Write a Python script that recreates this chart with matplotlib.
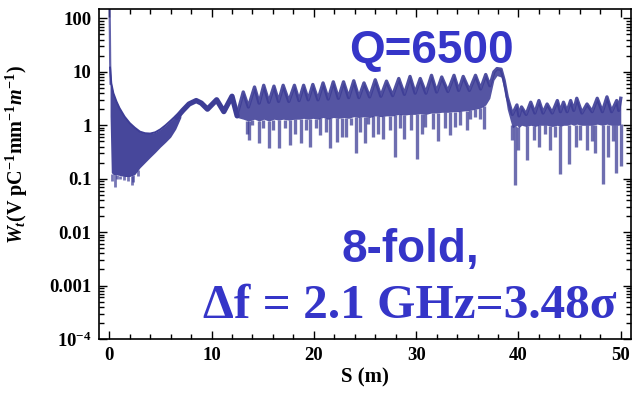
import numpy as np
import matplotlib
matplotlib.use("Agg")
import matplotlib.pyplot as plt
from matplotlib.ticker import FixedLocator, NullFormatter, LogLocator, MultipleLocator

# ---------------- data ----------------
# initial spike at s ~ 0
s_spike0 = [0.03, 0.06, 0.09, 0.13]
w_spike0 = [200.0, 60.0, 15.0, 6.0]

# dense fast-oscillating region (envelopes)
sA = [0.08, 0.2, 0.4, 0.7, 1.0, 1.5, 2.0, 2.5, 3.0, 3.5, 4.0, 4.5, 5.0, 5.5, 6.0, 6.5, 7.0]
hiA = [12, 6.1, 4.0, 2.8, 2.1, 1.45, 1.1, 0.9, 0.76, 0.71, 0.7, 0.74, 0.84, 1.0, 1.22, 1.5, 1.8]
loA = [1.5, 0.13, 0.12, 0.12, 0.115, 0.11, 0.11, 0.12, 0.16, 0.2, 0.25, 0.31, 0.39, 0.48, 0.6, 0.85, 1.4]
spA_s = [0.3, 0.55, 0.75, 1.1, 1.4, 1.8, 2.2, 2.35, 2.85]
spA_w = [0.09, 0.07, 0.1, 0.1, 0.095, 0.09, 0.075, 0.085, 0.11]

# smooth wavy part
sB = [6.6, 7.2, 7.8, 8.5, 9.0, 9.6, 10.5, 11.2, 12.0, 12.5]
wB = [1.4, 1.9, 2.5, 2.9, 2.6, 2.0, 3.0, 1.8, 3.5, 1.5]

# oscillating band (upper scallop / lower floor)
s_band = [12.5, 13.1, 13.6, 14.2, 14.65, 15.1, 15.6, 16.1, 16.55, 17.0, 17.55, 18.1, 18.55, 19.0,
          19.45, 19.9, 20.4, 20.9, 21.4, 21.9, 22.4, 22.9, 23.4, 23.9, 24.4, 24.9, 25.45, 26.0,
          26.55, 27.1, 27.7, 28.3, 28.85, 29.4, 29.9, 30.4, 30.95, 31.5, 32.0, 32.5, 33.1, 33.7,
          34.15, 34.6, 35.2, 35.8, 36.3, 36.8, 37.2, 37.6, 37.9, 38.3, 38.6, 38.9, 39.4, 39.85,
          40.05, 40.3, 40.75, 41.2, 41.6, 42.0, 42.4, 42.8, 43.3, 43.8, 44.1, 44.4, 44.75, 45.1,
          45.4, 45.7, 46.2, 46.7, 47.2, 47.7, 48.2, 48.65, 49.1, 49.6, 49.8, 50.0]
band_hi = [1.6, 4.2, 2.2, 5.2, 2.6, 5.6, 2.7, 5.4, 2.8, 5.6, 2.8, 5.6, 2.9, 5.6,
           3.0, 5.8, 3.0, 6.2, 3.1, 6.5, 3.2, 6.5, 3.3, 6.8, 3.3, 6.2, 3.4, 7.1,
           3.5, 6.7, 3.6, 7.5, 3.8, 8.2, 4.0, 7.5, 4.0, 8.6, 4.2, 8.0, 4.3, 8.6,
           4.5, 8.2, 4.5, 8.6, 4.8, 8.9, 5.5, 10.0, 11.5, 11.2, 6.9, 3.4, 1.6, 2.4,
           1.5, 2.2, 1.6, 2.7, 1.7, 2.9, 1.7, 2.5, 1.7, 2.9, 1.8, 2.7, 1.8, 2.9,
           1.9, 3.2, 1.7, 2.5, 1.8, 3.2, 1.8, 3.4, 1.8, 2.9, 1.9, 3.2]
band_lo = [1.4, 1.3, 1.2, 1.3, 1.2, 1.3, 1.2, 1.3, 1.25, 1.3, 1.25, 1.3, 1.3, 1.35,
           1.3, 1.35, 1.3, 1.4, 1.3, 1.4, 1.35, 1.4, 1.35, 1.45, 1.4, 1.45, 1.4, 1.5,
           1.45, 1.5, 1.5, 1.6, 1.55, 1.6, 1.6, 1.65, 1.6, 1.7, 1.7, 1.75, 1.75, 1.8,
           1.8, 1.85, 1.9, 2.0, 2.1, 2.4, 3.2, 7.0, 8.5, 8.0, 4.6, 2.0, 0.9, 1.0,
           0.9, 1.0, 0.95, 1.0, 0.95, 1.0, 1.0, 1.0, 0.95, 1.0, 0.95, 1.0, 1.0, 1.05,
           1.0, 1.05, 1.0, 1.0, 1.0, 1.05, 1.0, 1.05, 1.0, 1.0, 1.0, 1.05]

# downward spikes (minima) of the wake
sp_s = [13.5, 13.65, 14.0, 14.6, 15.0, 15.6, 16.0, 16.6, 17.2, 17.7,
        18.2, 18.7, 19.2, 19.6, 20.2, 20.6, 21.2, 21.6, 22.3, 22.8,
        23.1, 23.6, 24.1, 24.5, 25.0, 25.3, 25.8, 26.3, 26.8, 27.4,
        27.9, 28.4, 28.8, 29.5, 30.1, 30.6, 30.9, 31.6, 32.1, 32.8,
        33.3, 33.8, 34.3, 35.0, 35.3, 35.8, 36.2, 36.6,
        39.35, 39.7, 40.0, 40.8, 41.5, 42.0, 42.6, 43.1, 43.6, 44.1,
        44.9, 45.6, 46.0, 46.7, 47.2, 47.5, 48.3, 48.8, 49.2, 49.5, 50.0]
sp_w = [0.7, 0.52, 1.0, 0.46, 0.9, 0.37, 0.8, 0.38, 0.9, 0.42,
        0.7, 0.46, 0.8, 0.39, 0.9, 0.65, 0.75, 0.37, 0.49, 0.6,
        0.6, 1.0, 0.3, 0.75, 0.46, 1.07, 0.6, 0.7, 0.56, 0.8,
        0.26, 0.9, 0.56, 0.8, 0.23, 0.7, 0.93, 0.85, 0.5, 0.9,
        0.65, 0.93, 1.0, 0.8, 1.3, 1.4, 1.3, 0.87,
        0.53, 0.076, 0.34, 0.22, 0.53, 0.4, 0.7, 0.34, 0.6, 0.12,
        0.19, 0.4, 0.53, 0.34, 0.5, 0.3, 0.08, 0.26, 0.5, 0.13, 0.17]

y_ticks = [1e-4, 1e-3, 1e-2, 1e-1, 1, 10, 100]
y_ticklabels = [r"$10^{-4}$", "0.001", "0.01", "0.1", "1", "10", "100"]
x_ticks = [0, 10, 20, 30, 40, 50]

# ---------------- styling ----------------
plt.rcParams["font.family"] = ["Liberation Serif", "DejaVu Serif"]
plt.rcParams["font.weight"] = "bold"
plt.rcParams["mathtext.fontset"] = "custom"
plt.rcParams["mathtext.rm"] = "Liberation Serif:bold"
plt.rcParams["mathtext.it"] = "Liberation Serif:italic:bold"
plt.rcParams["mathtext.bf"] = "Liberation Serif:bold"

LINE = "#3d3d96"
TXT = "#3535c8"

fig = plt.figure(figsize=(6.35, 3.98), dpi=100)
ax = fig.add_axes([98.5 / 635, 59 / 398, (631 - 98.5) / 635, (339 - 9) / 398])
ax.set_yscale("log")
ax.set_xlim(-1.05, 51.0)
ax.set_ylim(1e-4, 150)

# initial spike
ax.plot(s_spike0, w_spike0, color=LINE, lw=1.6, alpha=0.8)
# dense region
ax.fill_between(sA, loA, hiA, color=LINE, alpha=0.95, lw=0)
ax.plot(sA, hiA, color=LINE, lw=1.4)
ax.vlines(spA_s, spA_w, np.interp(spA_s, sA, loA), color=LINE, lw=2.0, alpha=0.7)
# smooth wavy
ax.plot(sB, wB, color=LINE, lw=3.8, solid_capstyle="round", solid_joinstyle="round")
# band
ax.fill_between(s_band, band_lo, band_hi, color=LINE, alpha=0.88, lw=0)
ax.plot(s_band, band_hi, color=LINE, lw=2.4, alpha=0.9, solid_joinstyle="round")
ax.vlines(sp_s, sp_w, np.interp(sp_s, s_band, band_lo), color=LINE, lw=2.4, alpha=0.75)

# axes / ticks
for sp in ax.spines.values():
    sp.set_linewidth(1.2)
ax.xaxis.set_major_locator(FixedLocator(x_ticks))
ax.xaxis.set_minor_locator(MultipleLocator(2))
ax.yaxis.set_major_locator(FixedLocator(y_ticks))
ax.set_yticklabels(y_ticklabels)
ax.yaxis.set_minor_locator(LogLocator(base=10, subs=np.arange(2, 10)))
ax.yaxis.set_minor_formatter(NullFormatter())
ax.tick_params(which="both", direction="in", top=True, right=True, width=1.0)
ax.tick_params(which="major", length=6)
ax.tick_params(which="minor", length=3.5)
ax.tick_params(axis="x", labelsize=13.5, pad=6)
ax.tick_params(axis="y", labelsize=13.5, pad=5)
for lab in ax.get_xticklabels() + ax.get_yticklabels():
    lab.set_fontweight("bold")

ax.set_xlabel("S (m)", fontsize=15, fontweight="bold", labelpad=2)
ax.set_ylabel(r"$W_t$(V pC$^{-1}$mm$^{-1}$$m^{-1}$)", fontsize=14.5, fontweight="bold")
ax.yaxis.set_label_coords(-0.128, 0.56)

# annotations
fig.text(431 / 635, 1 - 63 / 398, "Q=6500", family="Liberation Sans", fontweight="bold",
         fontsize=33, color=TXT, ha="center", va="baseline")
fig.text(410 / 635, 1 - 262 / 398, "8-fold,", family="Liberation Sans", fontweight="bold",
         fontsize=33, color=TXT, ha="center", va="baseline")
fig.text(410 / 635, 1 - 318 / 398, "\u0394f = 2.1 GHz=3.48\u03c3", family="Liberation Serif",
         fontweight="bold", fontsize=35.5, color=TXT, ha="center", va="baseline")

fig.savefig("out.png", dpi=100)
